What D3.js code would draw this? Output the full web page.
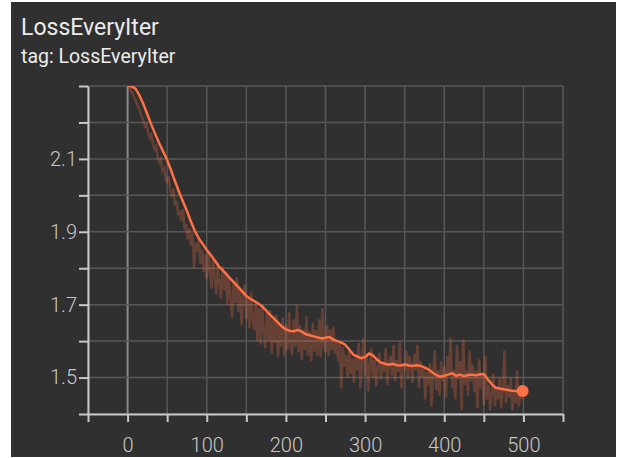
<!DOCTYPE html>
<html>
<head>
<meta charset="utf-8">
<script src="https://cdn.jsdelivr.net/npm/d3@7"></script>
<style>
  body { margin: 0; background: #ffffff; }
  svg { display: block; }
</style>
</head>
<body>
<svg id="loss_graph"></svg>
<script>
// raw loss, every 2nd iteration (0..498)
const rawSteps = d3.range(0, 500, 2);
const rawLoss = [
  2.300, 2.296, 2.288, 2.281, 2.270, 2.262, 2.248, 2.240, 2.228, 2.214,
  2.205, 2.190, 2.196, 2.172, 2.158, 2.166, 2.140, 2.128, 2.135, 2.104,
  2.092, 2.100, 2.068, 2.074, 2.046, 2.038, 2.052, 2.010, 1.996, 2.018,
  1.972, 1.985, 1.946, 1.958, 1.930, 1.962, 1.905, 1.922, 1.880, 1.910,
  1.862, 1.895, 1.800, 1.870, 1.845, 1.880, 1.812, 1.852, 1.790, 1.838,
  1.770, 1.845, 1.790, 1.745, 1.830, 1.772, 1.728, 1.815, 1.760, 1.715,
  1.805, 1.740, 1.790, 1.700, 1.778, 1.720, 1.665, 1.760, 1.705, 1.775,
  1.680, 1.745, 1.645, 1.725, 1.755, 1.660, 1.715, 1.635, 1.735, 1.655,
  1.630, 1.710, 1.600, 1.690, 1.590, 1.700, 1.625, 1.580, 1.680, 1.600,
  1.685, 1.565, 1.660, 1.595, 1.672, 1.555, 1.645, 1.585, 1.665, 1.560,
  1.645, 1.575, 1.680, 1.590, 1.560, 1.660, 1.585, 1.700, 1.570, 1.645,
  1.548, 1.632, 1.575, 1.668, 1.560, 1.625, 1.545, 1.650, 1.570, 1.630,
  1.560, 1.660, 1.555, 1.690, 1.585, 1.570, 1.645, 1.558, 1.632, 1.575,
  1.640, 1.565, 1.600, 1.545, 1.598, 1.470, 1.585, 1.530, 1.560, 1.500,
  1.575, 1.510, 1.552, 1.485, 1.560, 1.520, 1.595, 1.470, 1.545, 1.610,
  1.505, 1.565, 1.462, 1.540, 1.580, 1.500, 1.548, 1.475, 1.530, 1.568,
  1.495, 1.545, 1.515, 1.580, 1.480, 1.535, 1.560, 1.505, 1.590, 1.490,
  1.548, 1.515, 1.600, 1.470, 1.540, 1.520, 1.575, 1.495, 1.560, 1.530,
  1.485, 1.565, 1.520, 1.590, 1.470, 1.545, 1.500, 1.530, 1.440, 1.515,
  1.480, 1.540, 1.420, 1.510, 1.575, 1.465, 1.520, 1.450, 1.545, 1.490,
  1.530, 1.445, 1.560, 1.505, 1.610, 1.470, 1.520, 1.440, 1.590, 1.495,
  1.545, 1.410, 1.605, 1.480, 1.520, 1.450, 1.575, 1.490, 1.535, 1.460,
  1.520, 1.415, 1.550, 1.470, 1.505, 1.425, 1.560, 1.440, 1.480, 1.410,
  1.455, 1.510, 1.420, 1.475, 1.440, 1.500, 1.415, 1.470, 1.575, 1.430,
  1.480, 1.445, 1.500, 1.410, 1.465, 1.430, 1.520, 1.420, 1.455, 1.440
];

// smoothed loss, every 5th iteration (0..495) plus the last step
const smoothSteps = d3.range(0, 500, 5).concat([499]);
const smoothLoss = [
  2.300, 2.299, 2.293, 2.274, 2.250, 2.222, 2.194, 2.168, 2.143, 2.120,
  2.097, 2.068, 2.038, 2.009, 1.983, 1.957, 1.928, 1.902, 1.882, 1.866,
  1.850, 1.836, 1.822, 1.806, 1.795, 1.783, 1.771, 1.760, 1.748, 1.736,
  1.724, 1.716, 1.710, 1.703, 1.695, 1.684, 1.672, 1.662, 1.651, 1.640,
  1.632, 1.628, 1.627, 1.631, 1.626, 1.619, 1.616, 1.613, 1.610, 1.607,
  1.609, 1.611, 1.604, 1.600, 1.596, 1.590, 1.577, 1.563, 1.558, 1.553,
  1.556, 1.566, 1.561, 1.549, 1.541, 1.538, 1.535, 1.538, 1.534, 1.533,
  1.536, 1.533, 1.532, 1.534, 1.532, 1.528, 1.522, 1.514, 1.507, 1.502,
  1.505, 1.508, 1.512, 1.505, 1.508, 1.504, 1.507, 1.508, 1.506, 1.509,
  1.510, 1.495, 1.482, 1.472, 1.470, 1.468, 1.466, 1.464, 1.463, 1.461,
  1.463
];

const xTicks = d3.range(-50, 551, 50);
const xLabels = [0, 100, 200, 300, 400, 500];
const yTicks = [1.4, 1.5, 1.6, 1.7, 1.8, 1.9, 2.0, 2.1, 2.2, 2.3];
const yLabels = [1.5, 1.7, 1.9, 2.1];

const raw = rawSteps.map((s, i) => ({step: s, value: rawLoss[i]}));
const smooth = smoothSteps.map((s, i) => ({step: s, value: smoothLoss[i]}));

const W = 618, H = 458;
const margin = {top: 86, right: 55, bottom: 44, left: 88},
    width = W - margin.left - margin.right,
    height = H - margin.top - margin.bottom;

const root = d3.select("#loss_graph")
    .attr("width", W)
    .attr("height", H);

// dark card
root.append("rect")
    .attr("x", 11).attr("y", 2)
    .attr("width", 605).attr("height", 455)
    .attr("fill", "#303030");

root.append("text")
    .attr("x", 21).attr("y", 35)
    .attr("fill", "#ececec")
    .attr("font-family", "Roboto")
    .attr("font-size", "23px")
    .text("LossEveryIter");

root.append("text")
    .attr("x", 21).attr("y", 63)
    .attr("fill", "#ececec")
    .attr("font-family", "Roboto")
    .attr("font-size", "19.5px")
    .text("tag: LossEveryIter");

const svg = root.append("g")
    .attr("transform", `translate(${margin.left},${margin.top})`);

const x = d3.scaleLinear().domain([-50, 550]).range([0, width]);
const y = d3.scaleLinear().domain([1.4, 2.3]).range([height, 0]);

svg.append("defs").append("clipPath")
    .attr("id", "plot-clip")
  .append("rect")
    .attr("width", width)
    .attr("height", height);

// grid
svg.append("g")
  .selectAll("line")
  .data(xTicks)
  .join("line")
    .attr("x1", d => x(d)).attr("x2", d => x(d))
    .attr("y1", 0).attr("y2", height)
    .attr("stroke", d => d === 0 ? "#8a8a8a" : "#575757")
    .attr("stroke-width", d => d === 0 ? 2 : 1.5);

svg.append("g")
  .selectAll("line")
  .data(yTicks)
  .join("line")
    .attr("x1", 0).attr("x2", width)
    .attr("y1", d => y(d)).attr("y2", d => y(d))
    .attr("stroke", "#575757")
    .attr("stroke-width", 1.5);

// axes
const xAxis = svg.append("g")
    .attr("transform", `translate(0,${height})`)
    .call(d3.axisBottom(x)
        .tickValues(xTicks)
        .tickSize(8)
        .tickSizeOuter(0)
        .tickFormat(d => xLabels.includes(d) ? d : ""));

const yAxis = svg.append("g")
    .call(d3.axisLeft(y)
        .tickValues(yTicks)
        .tickSize(9)
        .tickSizeOuter(0)
        .tickFormat(d => yLabels.some(v => Math.abs(v - d) < 1e-9) ? d3.format(".1f")(d) : ""));

[xAxis, yAxis].forEach(a => {
  a.select(".domain").attr("stroke", "#c8c8c8").attr("stroke-width", 2);
  a.selectAll(".tick line").attr("stroke", "#c8c8c8").attr("stroke-width", 2);
  a.selectAll(".tick text")
      .attr("fill", "#c8c8c8")
      .attr("font-family", "Roboto")
      .attr("font-weight", 300)
      .attr("font-size", "20px");
});
xAxis.selectAll(".tick text").attr("dy", "1.35em");
yAxis.selectAll(".tick text").attr("x", -11);

const plot = svg.append("g").attr("clip-path", "url(#plot-clip)");

// raw series
plot.append("path")
    .datum(raw)
    .attr("fill", "none")
    .attr("stroke", "#ff7043")
    .attr("stroke-opacity", 0.26)
    .attr("stroke-width", 2.5)
    .attr("d", d3.line()
        .x(d => x(d.step))
        .y(d => y(d.value)));

// smoothed series
plot.append("path")
    .datum(smooth)
    .attr("fill", "none")
    .attr("stroke", "#ff7043")
    .attr("stroke-width", 2.5)
    .attr("stroke-linejoin", "round")
    .attr("d", d3.line()
        .x(d => x(d.step))
        .y(d => y(d.value)));

const last = smooth[smooth.length - 1];
svg.append("circle")
    .attr("cx", x(last.step))
    .attr("cy", y(last.value))
    .attr("r", 6)
    .attr("fill", "#ff7043");
</script>
</body>
</html>
